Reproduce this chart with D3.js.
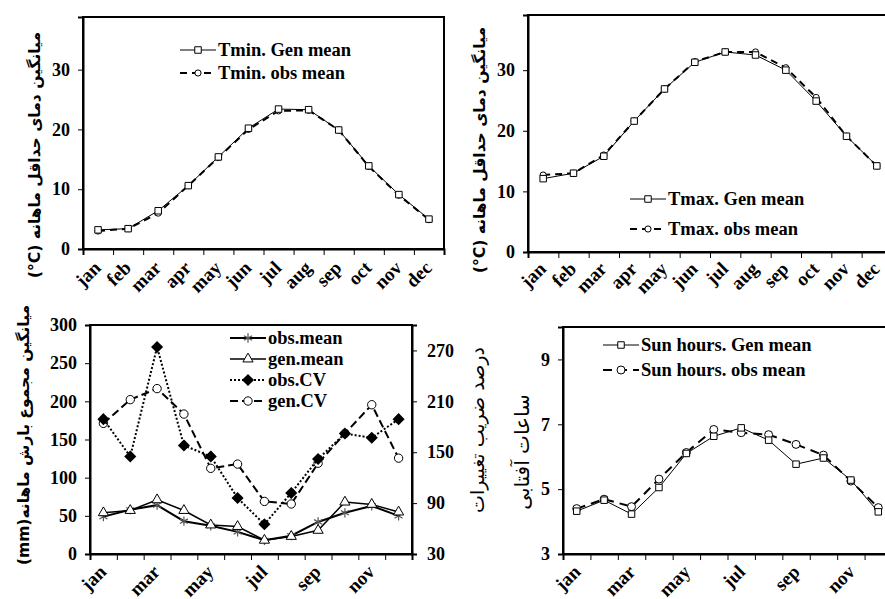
<!DOCTYPE html>
<html>
<head>
<meta charset="utf-8">
<script src="https://cdn.jsdelivr.net/npm/d3@7/dist/d3.min.js"></script>
<style>
  body { margin: 0; background: #fff; }
  svg { display: block; }
  .tick text { font-family: "Liberation Serif", "Times New Roman", serif; font-weight: bold; }
</style>
</head>
<body>
<script>
let width = 885;
let height = 599;

// data
let months = ["jan", "feb", "mar", "apr", "may", "jun", "jul", "aug", "sep", "oct", "nov", "dec"];

let tminGen = [3.2, 3.4, 6.4, 10.6, 15.4, 20.2, 23.4, 23.3, 19.9, 13.9, 9.1, 5.0];
let tminObs = [3.0, 3.4, 6.0, 10.6, 15.3, 20.0, 23.1, 23.2, 19.9, 13.8, 9.0, 4.9];

let tmaxGen = [12.1, 13.0, 15.8, 21.6, 26.9, 31.3, 33.0, 32.5, 30.0, 24.9, 19.1, 14.2];
let tmaxObs = [12.7, 13.0, 16.0, 21.6, 26.9, 31.4, 33.0, 33.0, 30.4, 25.5, 19.1, 14.2];

let rainObsMean = [49, 58, 64, 43, 37, 29, 18, 24, 42, 54, 63, 50];
let rainGenMean = [54, 57, 71, 57, 38, 36, 18, 23, 31, 68, 65, 55];
let rainObsCV = [189, 145, 274, 158, 145, 96, 65, 102, 142, 172, 167, 189];
let rainGenCV = [184, 212, 225, 195, 131, 136, 92, 89, 137, 172, 206, 143];

let sunGen = [4.32, 4.66, 4.23, 5.05, 6.10, 6.63, 6.89, 6.51, 5.77, 5.96, 5.28, 4.30];
let sunObs = [4.40, 4.69, 4.46, 5.31, 6.13, 6.84, 6.74, 6.68, 6.38, 6.05, 5.25, 4.43];

let tempTicks = [0, 10, 20, 30];
let rainTicks = [0, 50, 100, 150, 200, 250, 300];
let cvTicks = [30, 90, 150, 210, 270];
let sunTicks = [3, 5, 7, 9];

let serif = "'Liberation Serif', 'Times New Roman', serif";
let persian = "'DejaVu Sans', sans-serif";

let svg = d3.select("body")
            .append("svg")
            .attr("width", width)
            .attr("height", height)
            .style("background", "#fff");

// builds one panel frame with band x scale and linear y scale
function panel(cfg) {
  let g = svg.append("g");
  let x = d3.scaleBand().domain(months).range([cfg.left, cfg.right]);
  let y = d3.scaleLinear().domain(cfg.ydom).range([cfg.bottom, cfg.top]);

  // frame
  g.append("rect")
    .attr("x", cfg.left).attr("y", cfg.top)
    .attr("width", cfg.right - cfg.left).attr("height", cfg.bottom - cfg.top)
    .attr("fill", "none").attr("stroke", "#000").attr("stroke-width", 2);

  // y axis
  let ya = g.append("g")
    .attr("transform", "translate(" + cfg.left + ",0)")
    .call(d3.axisLeft(y).tickValues(cfg.yticks).tickSize(5).tickPadding(8).tickFormat(d3.format("d")));
  ya.select(".domain").attr("stroke-width", 2);
  ya.selectAll("text").attr("font-size", 18).attr("fill", "#000");

  // x tick marks at band edges
  let edges = d3.scaleLinear().domain([0, 12]).range([cfg.left, cfg.left + x.bandwidth() * 12]);
  let xa = g.append("g")
    .attr("transform", "translate(0," + cfg.bottom + ")")
    .call(d3.axisBottom(edges).tickValues(d3.range(13)).tickSize(6).tickFormat(""));
  xa.select(".domain").attr("stroke-width", 2);

  // month labels, rotated
  let shown = months.filter(function(m, i) { return i % cfg.every == 0; });
  g.selectAll(".mlab")
    .data(shown)
    .enter()
    .append("text")
    .attr("text-anchor", "end")
    .attr("font-family", serif)
    .attr("font-weight", "bold")
    .attr("font-size", 19)
    .attr("transform", function(d) {
      return "translate(" + (x(d) + x.bandwidth() / 2 + cfg.labX) + "," + (cfg.bottom + cfg.labOff) + ") rotate(-45)";
    })
    .text(function(d) { return d; });

  return { g: g, x: x, y: y };
}

function series(p, yscale, values, style) {
  let line = d3.line()
    .x(function(d, i) { return p.x(months[i]) + p.x.bandwidth() / 2; })
    .y(function(d) { return yscale(d); });
  p.g.append("path")
    .attr("d", line(values))
    .attr("fill", "none")
    .attr("stroke", style.color || "#000")
    .attr("stroke-width", style.width)
    .attr("stroke-dasharray", style.dash || null);
  p.g.selectAll(null)
    .data(values)
    .enter()
    .append("path")
    .attr("transform", function(d, i) {
      return "translate(" + (p.x(months[i]) + p.x.bandwidth() / 2) + "," + yscale(d) + ")";
    })
    .attr("d", d3.symbol().type(style.symbol).size(style.size))
    .attr("fill", style.fill)
    .attr("stroke", style.mstroke || "#000")
    .attr("stroke-width", style.mwidth || 1);
}

function legend(p, x0, y0, gap, items) {
  items.forEach(function(it, i) {
    let yy = y0 + i * gap;
    p.g.append("line")
      .attr("x1", x0).attr("x2", x0 + 36).attr("y1", yy).attr("y2", yy)
      .attr("stroke", it.style.color || "#000")
      .attr("stroke-width", it.style.width)
      .attr("stroke-dasharray", it.style.dash || null);
    p.g.append("path")
      .attr("transform", "translate(" + (x0 + 18) + "," + yy + ")")
      .attr("d", d3.symbol().type(it.style.symbol).size(it.style.size))
      .attr("fill", it.style.fill)
      .attr("stroke", it.style.mstroke || "#000")
      .attr("stroke-width", it.style.mwidth || 1);
    p.g.append("text")
      .attr("x", x0 + 38).attr("y", yy + 6)
      .attr("font-family", serif).attr("font-weight", "bold").attr("font-size", 18.5)
      .text(it.name);
  });
}

function ytitle(cx, cy, txt, size, weight) {
  svg.append("text")
    .attr("transform", "translate(" + cx + "," + cy + ") rotate(-90)")
    .attr("text-anchor", "middle")
    .attr("dominant-baseline", "middle")
    .attr("font-family", persian)
    .attr("font-weight", weight)
    .attr("font-size", size)
    .text(txt);
}

let genStyle = { symbol: d3.symbolSquare, size: 42, fill: "#fff", width: 1 };
let obsStyle = { symbol: d3.symbolCircle, size: 30, fill: "#fff", width: 2, dash: "7,5" };

// panel 1: Tmin
let p1 = panel({ left: 83, right: 444, top: 17, bottom: 249, ydom: [0, 38.8], yticks: tempTicks, every: 1, labX: 4, labOff: 20 });
series(p1, p1.y, tminObs, obsStyle);
series(p1, p1.y, tminGen, genStyle);
legend(p1, 180, 50, 23, [
  { name: "Tmin. Gen mean", style: genStyle },
  { name: "Tmin. obs mean", style: obsStyle }
]);

// panel 2: Tmax
let p2 = panel({ left: 528, right: 892, top: 15, bottom: 252, ydom: [0, 39.1], yticks: tempTicks, every: 1, labX: 4, labOff: 18 });
series(p2, p2.y, tmaxObs, obsStyle);
series(p2, p2.y, tmaxGen, genStyle);
legend(p2, 630, 199, 30, [
  { name: "Tmax. Gen mean", style: genStyle },
  { name: "Tmax. obs mean", style: obsStyle }
]);

// panel 3: rainfall with CV on right axis
let p3 = panel({ left: 90, right: 412, top: 325, bottom: 554, ydom: [0, 300], yticks: rainTicks, every: 2, labX: 4, labOff: 19 });
let y2 = d3.scaleLinear().domain([30, 300]).range([554, 325]);
let ra = p3.g.append("g")
  .attr("transform", "translate(412,0)")
  .call(d3.axisRight(y2).tickValues(cvTicks).tickSize(5).tickPadding(10));
ra.select(".domain").attr("stroke-width", 2);
ra.selectAll("text").attr("font-size", 18).attr("fill", "#000");

let obsMeanStyle = { symbol: d3.symbolAsterisk, size: 60, fill: "none", width: 2, mstroke: "#555", mwidth: 1.2 };
let genMeanStyle = { symbol: d3.symbolTriangle, size: 45, fill: "#fff", width: 1.5 };
let obsCVStyle = { symbol: d3.symbolDiamond2, size: 55, fill: "#000", width: 2, dash: "2,2", mstroke: "#000", mwidth: 2 };
let genCVStyle = { symbol: d3.symbolCircle, size: 55, fill: "#fff", width: 2, dash: "8,4" };

series(p3, y2, rainGenCV, genCVStyle);
series(p3, y2, rainObsCV, obsCVStyle);
series(p3, p3.y, rainObsMean, obsMeanStyle);
series(p3, p3.y, rainGenMean, genMeanStyle);
legend(p3, 230, 338, 21, [
  { name: "obs.mean", style: obsMeanStyle },
  { name: "gen.mean", style: genMeanStyle },
  { name: "obs.CV", style: obsCVStyle },
  { name: "gen.CV", style: genCVStyle }
]);

// panel 4: sun hours
let p4 = panel({ left: 563, right: 892, top: 327, bottom: 554, ydom: [3, 10], yticks: sunTicks, every: 2, labX: 5, labOff: 19 });
let sunObsStyle = { symbol: d3.symbolCircle, size: 50, fill: "#fff", width: 2, dash: "9,6" };
let sunGenStyle = { symbol: d3.symbolSquare, size: 42, fill: "#fff", width: 1 };
series(p4, p4.y, sunObs, sunObsStyle);
series(p4, p4.y, sunGen, sunGenStyle);
legend(p4, 603, 345, 25, [
  { name: "Sun hours. Gen mean", style: sunGenStyle },
  { name: "Sun hours. obs mean", style: sunObsStyle }
]);

// axis titles (Persian)
ytitle(35, 155, "(°C) میانگین دمای حداقل ماهانه", 15.5, "bold");
ytitle(480, 150, "(°C) میانگین دمای حداقل ماهانه", 15.5, "bold");
ytitle(24, 435, "(mm)میانگین مجموع بارش ماهانه", 15.5, "bold");
ytitle(478, 430, "درصد ضریب تغییرات", 19, "normal");
ytitle(523, 452, "ساعات آفتابی", 20, "normal");
</script>
</body>
</html>
